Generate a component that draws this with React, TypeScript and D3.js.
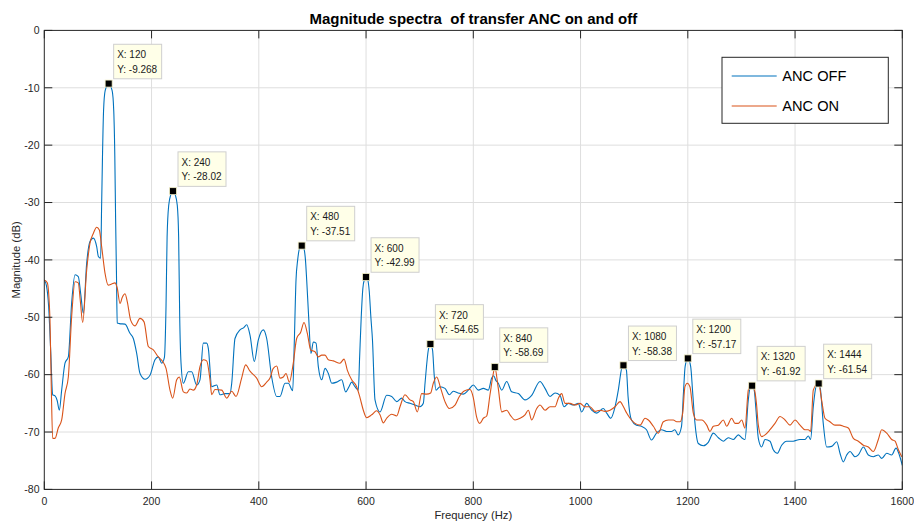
import React from "react";
import * as d3 from "d3";

const title = "Magnitude spectra  of transfer ANC on and off";
const xLabel = "Frequency (Hz)";
const yLabel = "Magnitude (dB)";
const seriesNames = ["ANC OFF", "ANC ON"];
const seriesColors = ["#0072BD", "#D95319"];
const xTicks = [0, 200, 400, 600, 800, 1000, 1200, 1400, 1600];
const yTicks = [-80, -70, -60, -50, -40, -30, -20, -10, 0];

const ancOff: [number, number][] = [
  [0,-43.5],[4,-44.5],[8,-48],[12,-56],[15.6,-63.5],[20,-63.7],[24,-64.5],[28,-66.2],[32.4,-62.7],[38.6,-58],[44.8,-56.9],[51,-47.5],[57.3,-42.6],[63.4,-42.9],[68,-46],[72.8,-49.3],[79,-40.6],[85.2,-36.8],[91.4,-36.2],[97.7,-37.7],[100.8,-39.4],[105,-39.7],[107,-30],[108.5,-22],[110.5,-14],[113.5,-10.5],[120,-9.268],[126.5,-10.5],[129.5,-14],[131.5,-22],[133,-33],[134.5,-42],[136,-51],[140,-51.1],[150.5,-51.2],[159.8,-52.8],[166,-53.7],[172.3,-56.3],[178.5,-59.8],[187.8,-60.8],[197.1,-60.1],[206.4,-57.4],[212.6,-56.9],[219,-58],[224,-57],[227,-48],[229,-36],[232,-30.5],[236,-28.6],[240,-28.02],[244,-28.6],[248,-30.5],[250.5,-36],[252.5,-50],[255,-58],[259.3,-61.5],[268.6,-59.5],[274.8,-59.5],[284.1,-61.8],[290.3,-60.9],[296.5,-54.5],[302.8,-54.5],[306,-55.5],[312.2,-62.1],[321.5,-61.8],[327.6,-63.5],[337,-63.3],[346.3,-63.3],[349.5,-61.5],[355.6,-53.7],[365,-52.2],[372,-51.8],[377.4,-51.3],[383.6,-53.1],[391.6,-57.7],[399,-54],[408.4,-52.2],[414.7,-53.7],[424,-60.4],[433.4,-63.8],[439.5,-63.8],[448.9,-61.5],[455,-61.5],[463.2,-62.8],[466,-55],[469.4,-43.5],[472.5,-40],[476,-38],[480,-37.51],[484,-38],[487,-40],[489.3,-43.5],[493,-50],[497.3,-56.3],[501.7,-54.3],[506.7,-54.5],[511,-58.6],[517.3,-60.9],[523.5,-58.9],[529.7,-59.8],[536,-61.5],[545.3,-61.3],[554.6,-60.9],[562,-63],[568.2,-62.1],[573.2,-61.3],[579.4,-62.1],[585.6,-62.7],[588,-57],[591,-50],[594,-45],[597,-43.4],[600,-42.99],[603,-43.4],[606,-45.5],[609,-50],[612,-54],[616.7,-64.4],[626,-66.5],[638.5,-63.6],[647.8,-63.8],[657.2,-64.7],[666.5,-64.1],[672.6,-64.7],[682,-65],[691.3,-65.3],[700.6,-65.6],[706.8,-65],[710,-61.5],[716.1,-55.7],[720,-54.65],[724,-55.7],[727,-60],[730.4,-62.7],[737.9,-62.1],[747.2,-62.4],[755.3,-63.5],[762.7,-62.9],[772,-63.2],[781.4,-63.4],[790.7,-62.7],[800,-61.8],[809.3,-62.7],[818.7,-62.4],[828,-62.7],[834.3,-60.6],[838,-60.2],[842,-61],[846.6,-61.5],[853,-62.7],[862.3,-61.2],[871.6,-63],[884,-63.3],[896.4,-64.4],[908.9,-63.6],[924.4,-61.2],[933.7,-62.4],[943,-63.8],[952.4,-63.2],[961.7,-63.6],[969.1,-65.6],[977.2,-65],[986.5,-65.3],[995.8,-65],[1002,-66.5],[1011.4,-65],[1020.8,-66.2],[1030,-66.7],[1042.5,-65.9],[1048.8,-66.7],[1056.3,-67.6],[1064.3,-65.6],[1070.4,-62.7],[1076.7,-58.9],[1080,-58.38],[1085.5,-59.2],[1088.6,-63.8],[1095,-67.9],[1104.3,-68.8],[1113.6,-69],[1123,-69.6],[1132.3,-71.4],[1141.6,-70.2],[1151,-69.6],[1160.3,-69.9],[1169.6,-69.9],[1175.8,-69.6],[1182,-70.5],[1188.3,-69],[1192,-63],[1195,-58.6],[1200,-57.17],[1205.4,-58.6],[1209,-63],[1213.4,-68.5],[1219.6,-72],[1229,-72.4],[1238.2,-71.8],[1247.6,-70.2],[1257,-71],[1266.3,-71.6],[1275.5,-71],[1285,-71.3],[1294.2,-70.5],[1300.5,-71],[1306.6,-71.3],[1312.8,-64.4],[1316,-62.3],[1320,-61.92],[1324,-62.8],[1327,-66],[1331.5,-71.1],[1337.7,-72.6],[1344,-71.3],[1353.3,-71.6],[1359.4,-73.1],[1366.9,-73.7],[1375,-72.3],[1384.3,-71.6],[1396.7,-71.6],[1409,-71.3],[1418.5,-71.3],[1424.7,-70.7],[1429,-71.3],[1434,-65.6],[1440,-61.8],[1444,-61.54],[1447,-62.3],[1452.6,-68.5],[1459,-72.6],[1468.3,-72.5],[1477.7,-71.7],[1483.8,-73.7],[1490,-75.2],[1496.3,-74],[1502.5,-73.4],[1511.8,-74.3],[1518,-74],[1527.4,-72.6],[1536.6,-74],[1546,-74.3],[1555.3,-74],[1561.6,-74.6],[1571,-73.7],[1580.2,-74],[1588.3,-72.8],[1594.5,-74],[1600,-75.8]
];

const ancOn: [number, number][] = [
  [0,-43.5],[5.6,-44],[10.6,-50.5],[13,-62],[15.6,-71.1],[20,-71.1],[26,-69.3],[32.4,-67.9],[38.6,-63.3],[44.8,-60.4],[51,-49.9],[57.3,-43.8],[63.4,-44],[67,-47],[71.6,-50.9],[79,-41.8],[85.2,-37.1],[91.4,-35.4],[97.7,-34.3],[102.6,-34.8],[107,-37.7],[113.2,-42.3],[119.3,-44.4],[125.6,-44.2],[131.8,-44],[136,-44.9],[141.2,-47.6],[145.5,-46.5],[150.5,-45.9],[154.8,-47.3],[161,-50.5],[169,-51.5],[178.5,-50.2],[186,-50.8],[194,-55.1],[203.3,-55.7],[212.6,-56.9],[220.8,-57.7],[227,-58.9],[234.4,-62.7],[239.4,-64.1],[246.9,-60.9],[251.8,-60.4],[259.3,-63],[265.5,-63.2],[271.7,-62.5],[277.9,-62.7],[284.1,-61.8],[290.3,-58.6],[296.5,-57.4],[302.8,-57.6],[309,-60.9],[312.2,-63.5],[318.3,-62.6],[330.8,-62.7],[340.1,-64.1],[349.5,-62.9],[357.5,-63.8],[368,-60.6],[375.5,-58.3],[383.6,-59.4],[396,-60.6],[405.4,-62.1],[414.7,-61.3],[420.9,-60.6],[427,-58.9],[433.4,-58.5],[439.5,-60.6],[445.7,-60.4],[450.7,-59.8],[457,-61.3],[464.3,-58],[470.6,-53.7],[478.1,-52.6],[484.3,-50.9],[490.5,-52.8],[496.8,-55.7],[504.8,-56],[511,-56.9],[517.3,-56.6],[523.5,-56.6],[529.7,-57.4],[539,-57.6],[551.4,-58],[559,-57.3],[565,-59.2],[573.2,-60.9],[582.5,-62.1],[588.7,-64],[594.9,-66.2],[601.2,-67.5],[610.5,-67],[619.8,-66.3],[626,-67],[632.2,-68.4],[638.5,-67.6],[647.8,-66.9],[657.2,-67.2],[663.3,-65.6],[672.6,-63.5],[682,-64.4],[688.2,-64.7],[695.6,-66.5],[703.7,-63.3],[713,-63.4],[720.5,-63.2],[725.4,-61.5],[731.7,-60.4],[739.2,-62.4],[747.2,-64.7],[755.3,-65.9],[765.9,-65.3],[774,-63.8],[784,-62.8],[793.8,-62.6],[800,-64],[806,-67.3],[812,-68.5],[818.7,-67.6],[825,-67.2],[831.1,-63.5],[837.3,-59.8],[840,-58.69],[846.6,-62.4],[853,-66.5],[862.3,-66.2],[868.5,-67],[877.8,-67.9],[887.1,-67.6],[896.4,-67],[902.6,-66.2],[908.9,-67.9],[918.2,-65.9],[924.4,-65.3],[933.7,-66.2],[943,-65.6],[952.4,-65.6],[958.6,-64.1],[964.8,-63.3],[971,-65],[980.4,-65],[989.7,-65.3],[999,-65],[1008.4,-65.6],[1017.7,-65.6],[1027,-66.4],[1036.3,-66.2],[1045.7,-66.4],[1055,-66.2],[1064.3,-65.6],[1073.6,-64.7],[1080,-65.6],[1086,-66.7],[1092.3,-67.6],[1101.6,-68.5],[1111,-68.8],[1120.3,-67.6],[1126.5,-67.9],[1135.8,-69],[1145.1,-70.2],[1154.4,-68.2],[1163.7,-67.9],[1173,-67.9],[1179.3,-68.2],[1185.6,-68.2],[1190.5,-66.7],[1194.7,-62.1],[1199,-61.5],[1204,-62.1],[1210.3,-66.7],[1216.5,-67.9],[1226,-67.9],[1235.3,-68.8],[1241.4,-69.9],[1247.6,-69],[1257,-68.8],[1266.3,-67.9],[1272.5,-69],[1281.8,-67.6],[1288,-68.5],[1294.2,-68.5],[1300.5,-67.9],[1306.6,-69.3],[1312.8,-62.7],[1316,-62],[1320,-61.92],[1324,-62.5],[1328,-65],[1331.5,-68.8],[1337.7,-70.8],[1344,-70.5],[1353.3,-69.6],[1362.6,-68.5],[1372,-67.3],[1381.3,-67.9],[1390.6,-68.8],[1400,-67.9],[1409.3,-68.8],[1418.5,-69.6],[1424.7,-69.6],[1429,-69.9],[1434,-62.7],[1440,-61.7],[1444,-61.54],[1449.5,-64.4],[1455.8,-67.6],[1465,-68.2],[1474.4,-68.8],[1483.8,-68.8],[1490,-69],[1499.3,-69.3],[1508.7,-71.1],[1518,-71.6],[1527.4,-72.3],[1536.6,-72.6],[1546,-73.4],[1555.3,-71.3],[1561.6,-69.6],[1571,-70.2],[1580.2,-71.3],[1586.5,-71.6],[1592.7,-73.1],[1599,-74.3]
];

const peakX = [120, 240, 480, 600, 720, 840, 1080, 1200, 1320, 1444];
const peakY = [-9.268, -28.02, -37.51, -42.99, -54.65, -58.69, -58.38, -57.17, -61.92, -61.54];
const peakYLabels = ["-9.268", "-28.02", "-37.51", "-42.99", "-54.65", "-58.69", "-58.38", "-57.17", "-61.92", "-61.54"];

const FONT = "'Liberation Sans', Arial, Helvetica, sans-serif";

export default function App() {
  const W = 914, H = 524;
  const x = d3.scaleLinear().domain([0, 1600]).range([44.3, 902.3]);
  const y = d3.scaleLinear().domain([-80, 0]).range([489.4, 30.4]);
  const line = d3.line<[number, number]>()
    .x(d => x(d[0]))
    .y(d => y(d[1]))
    .curve(d3.curveMonotoneX);
  const [x0, x1] = x.range();
  const [y0, y1] = y.range();
  const tickLen = 8;
  const axisColor = "#262626";
  const gridColor = "#dedede";

  return (
    <div style={{ position: "absolute", left: 0, top: 0 }}>
      <svg width={W} height={H} style={{ display: "block", background: "#fff" }} fontFamily={FONT}>
        <rect x={0} y={0} width={W} height={H} fill="#fff" />
        {/* grid */}
        {xTicks.slice(1, -1).map(t => (
          <line key={"gx" + t} x1={x(t)} x2={x(t)} y1={y0} y2={y1} stroke={gridColor} strokeWidth={1} />
        ))}
        {yTicks.slice(1, -1).map(t => (
          <line key={"gy" + t} x1={x0} x2={x1} y1={y(t)} y2={y(t)} stroke={gridColor} strokeWidth={1} />
        ))}
        {/* series */}
        <clipPath id="plotclip">
          <rect x={x0} y={y1} width={x1 - x0} height={y0 - y1} />
        </clipPath>
        <g clipPath="url(#plotclip)">
          <path d={line(ancOff) || ""} fill="none" stroke={seriesColors[0]} strokeWidth={1.1} />
          <path d={line(ancOn) || ""} fill="none" stroke={seriesColors[1]} strokeWidth={1.1} />
        </g>
        {/* box and ticks */}
        <rect x={x0} y={y1} width={x1 - x0} height={y0 - y1} fill="none" stroke={axisColor} strokeWidth={1} />
        {xTicks.map(t => (
          <g key={"xt" + t}>
            <line x1={x(t)} x2={x(t)} y1={y0} y2={y0 - tickLen} stroke={axisColor} />
            <line x1={x(t)} x2={x(t)} y1={y1} y2={y1 + tickLen} stroke={axisColor} />
            <text x={x(t)} y={505} textAnchor="middle" fontSize={10.5} fill={axisColor}>{t}</text>
          </g>
        ))}
        {yTicks.map(t => (
          <g key={"yt" + t}>
            <line x1={x0} x2={x0 + tickLen} y1={y(t)} y2={y(t)} stroke={axisColor} />
            <line x1={x1} x2={x1 - tickLen} y1={y(t)} y2={y(t)} stroke={axisColor} />
            <text x={39.5} y={y(t) + 3.8} textAnchor="end" fontSize={10.5} fill={axisColor}>{t}</text>
          </g>
        ))}
        {/* labels */}
        <text x={(x0 + x1) / 2} y={24} textAnchor="middle" fontSize={15} fontWeight="bold" fill="#000" style={{ whiteSpace: "pre" }}>{title}</text>
        <text x={(x0 + x1) / 2} y={518.5} textAnchor="middle" fontSize={11.3} fill={axisColor}>{xLabel}</text>
        <text transform={`translate(19.8, ${(y0 + y1) / 2}) rotate(-90)`} textAnchor="middle" fontSize={11.3} fill={axisColor}>{yLabel}</text>
        {/* data tips */}
        {peakX.map((px, i) => {
          const mx = x(px), my = y(peakY[i]);
          return (
            <g key={"tip" + px}>
              <rect x={mx - 3.5} y={my - 3.5} width={7} height={7} fill="#000" stroke="#f3f0c8" strokeWidth={0.8} />
              <rect x={mx + 5} y={my - 39.3} width={48} height={34.5} fill="#ffffe8" stroke="#cfcfcf" strokeWidth={1} />
              <text x={mx + 8.5} y={my - 25.3} fontSize={10} fill="#1a1a1a">{`X: ${px}`}</text>
              <text x={mx + 8.5} y={my - 10.7} fontSize={10} fill="#1a1a1a">{`Y: ${peakYLabels[i]}`}</text>
            </g>
          );
        })}
        {/* legend */}
        <g>
          <rect x={722} y={57.3} width={166.3} height={66} fill="#fff" stroke={axisColor} strokeWidth={1} />
          {seriesNames.map((name, i) => (
            <g key={name}>
              <line x1={731.7} x2={776.7} y1={76 + i * 30} y2={76 + i * 30} stroke={seriesColors[i]} strokeWidth={1.1} />
              <text x={782.3} y={81.3 + i * 30} fontSize={14.6} fill="#000">{name}</text>
            </g>
          ))}
        </g>
      </svg>
    </div>
  );
}
